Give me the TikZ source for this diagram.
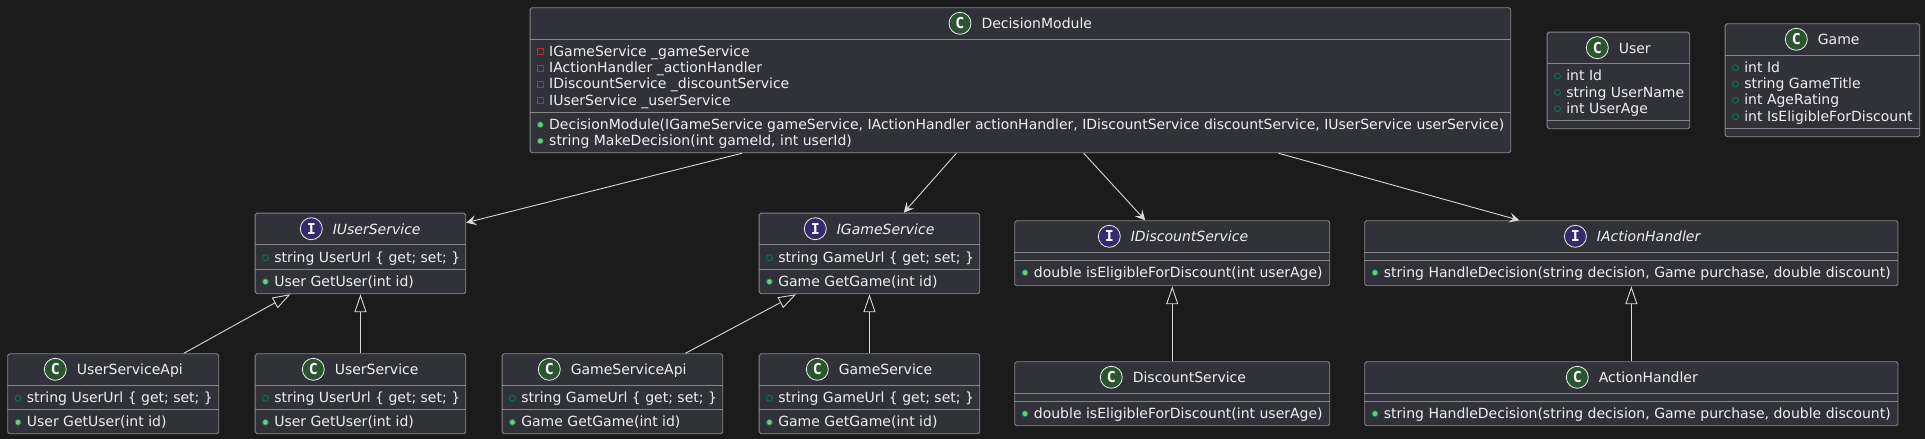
\documentclass[tikz,border=0pt]{standalone}
\usepackage{fontspec}
\setmainfont{DejaVu Sans}
\setmonofont{DejaVu Sans Mono}
\usepackage{tikz}
\usetikzlibrary{arrows.meta}
\definecolor{pagebg}{HTML}{1B1B1B}
\definecolor{boxbg}{HTML}{31313A}
\definecolor{boxline}{HTML}{888888}
\definecolor{inktext}{HTML}{F0F0F0}
\definecolor{linkline}{HTML}{D8D8D8}
\definecolor{iconC}{HTML}{2B5530}
\definecolor{iconI}{HTML}{352A6E}
\definecolor{privred}{HTML}{C82930}
\definecolor{pubgreen}{HTML}{038048}
\definecolor{pubfill}{HTML}{84BE84}
\tikzset{
    umlbox/.style={draw=boxline, fill=boxbg, line width=0.9pt, rounded corners=1.8pt,
        inner sep=0pt, anchor=north west},
    sepline/.style={boxline, line width=0.9pt},
    classicon/.style={circle, draw=inktext, line width=0.8pt, minimum size=22pt, inner sep=0pt,
        text=white, font=\ttfamily\bfseries\fontsize{15}{15}\selectfont},
    titletext/.style={text=inktext, anchor=base west, inner sep=0pt},
    membertext/.style={text=inktext, anchor=base west, inner sep=0pt, font=\fontsize{14}{14}\selectfont},
    mpriv/.style={rectangle, draw=privred, line width=0.8pt, minimum size=6pt, inner sep=0pt},
    mfield/.style={circle, draw=pubgreen, line width=0.8pt, minimum size=6pt, inner sep=0pt},
    mmeth/.style={circle, draw=pubgreen, fill=pubfill, line width=0.8pt, minimum size=6pt, inner sep=0pt},
    assoc/.style={linkline, line width=0.9pt, -{Stealth[length=10pt, width=10pt, inset=4pt, fill=linkline]}},
    inherit/.style={linkline, line width=0.9pt, -{Triangle[open, length=18pt, width=12pt, fill=pagebg]}},
}
\begin{document}
\begin{tikzpicture}[x=1pt, y=-1pt]

\fill[pagebg] (0,0) rectangle (1925,439);
\useasboundingbox (0,0) rectangle (1925,439);

% ---------------- BOXES ----------------
% name / left / top / width / height / first line / second line
\foreach \nm/\xa/\ya/\bw/\bh/\sepa/\sepb in {
    dm/529.6/7.3/980.7/145/32/105,
    iuser/254.7/212.7/210.6/80.6/31.6/56.6,
    userapi/7.3/353.3/211/80/32/56,
    usersvc/254.7/353.3/210.6/80/32/56,
    igame/758.7/212.7/220.6/80.6/31.6/56.6,
    gameapi/501.7/353.3/220.6/80/32/56,
    gamesvc/758.7/353.3/220.6/80/32/56,
    idisc/1014.3/220.3/315/65/32/40,
    discsvc/1014.3/361.3/315/64/32/40,
    iaction/1364.3/220.3/533.2/65/32/40,
    action/1364.3/361.3/533.2/64/32/40,
    user/1546.7/31.7/142.6/96.6/31.6/88.6,
    game/1724.7/23.3/194.6/113/32/105
}{
    \node[umlbox, minimum width=\bw pt, minimum height=\bh pt] (\nm) at (\xa,\ya) {};
    \draw[sepline] ([yshift=-\sepa pt]\nm.north west) -- ([yshift=-\sepa pt]\nm.north east);
    \draw[sepline] ([yshift=-\sepb pt]\nm.north west) -- ([yshift=-\sepb pt]\nm.north east);
}

% ---------------- TITLES ----------------
% box / icon x from left / letter / shape / text
\foreach \nm/\ix/\ltr/\shp/\txt in {
    dm/430.4/C/up/DecisionModule,
    iuser/56.6/I/it/IUserService,
    userapi/48/C/up/UserServiceApi,
    usersvc/58.6/C/up/UserService,
    igame/56.6/I/it/IGameService,
    gameapi/47.6/C/up/GameServiceApi,
    gamesvc/58.6/C/up/GameService,
    idisc/95/I/it/IDiscountService,
    discsvc/97/C/up/DiscountService,
    iaction/211.1/I/it/IActionHandler,
    action/213/C/up/ActionHandler,
    user/50.6/C/up/User,
    game/71.6/C/up/Game
}{
    \node[classicon, fill=icon\ltr] (\nm-icon) at ([shift={(\ix,16)}]\nm.north west) {\ltr};
    \node[titletext, font=\fontsize{14}{14}\selectfont\csname\shp shape\endcsname] (\nm-title)
        at ([shift={(21.3,5.4)}]\nm-icon.center) {\txt};
}

% ---------------- MEMBERS ----------------
% box / row / baseline below top / marker / text
\foreach \nm/\rw/\dy/\kind/\txt in {
    dm/1/49/mpriv/{IGameService \_gameService},
    dm/2/65.3/mpriv/{IActionHandler \_actionHandler},
    dm/3/81.6/mpriv/{IDiscountService \_discountService},
    dm/4/98/mpriv/{IUserService \_userService},
    dm/5/122/mmeth/{DecisionModule(IGameService gameService, IActionHandler actionHandler, IDiscountService discountService, IUserService userService)},
    dm/6/138.3/mmeth/{string MakeDecision(int gameId, int userId)},
    iuser/1/49.6/mfield/{string UserUrl \{ get; set; \}},
    iuser/2/73.6/mmeth/{User GetUser(int id)},
    userapi/1/49.6/mfield/{string UserUrl \{ get; set; \}},
    userapi/2/73.6/mmeth/{User GetUser(int id)},
    usersvc/1/49.6/mfield/{string UserUrl \{ get; set; \}},
    usersvc/2/73.6/mmeth/{User GetUser(int id)},
    igame/1/49.6/mfield/{string GameUrl \{ get; set; \}},
    igame/2/73.6/mmeth/{Game GetGame(int id)},
    gameapi/1/49.6/mfield/{string GameUrl \{ get; set; \}},
    gameapi/2/73.6/mmeth/{Game GetGame(int id)},
    gamesvc/1/49.6/mfield/{string GameUrl \{ get; set; \}},
    gamesvc/2/73.6/mmeth/{Game GetGame(int id)},
    idisc/1/57/mmeth/{double isEligibleForDiscount(int userAge)},
    discsvc/1/57/mmeth/{double isEligibleForDiscount(int userAge)},
    iaction/1/57/mmeth/{string HandleDecision(string decision, Game purchase, double discount)},
    action/1/57/mmeth/{string HandleDecision(string decision, Game purchase, double discount)},
    user/1/49/mfield/{int Id},
    user/2/65.3/mfield/{string UserName},
    user/3/81.6/mfield/{int UserAge},
    game/1/49/mfield/{int Id},
    game/2/65.3/mfield/{string GameTitle},
    game/3/81.6/mfield/{int AgeRating},
    game/4/98/mfield/{int IsEligibleForDiscount}
}{
    \node[\kind] (\nm-mark\rw) at ([shift={(10.7,\dy-4.6)}]\nm.north west) {};
    \node[membertext] (\nm-row\rw) at ([shift={(19.4,\dy)}]\nm.north west) {\txt};
}

% ---------------- LINKS ----------------
\draw[assoc] ([xshift=-278.3pt]dm.south) -- ([yshift=-10pt]iuser.north east);
\draw[assoc] ([xshift=-64pt]dm.south) -- ([xshift=34.3pt]igame.north);
\draw[assoc] ([xshift=63.3pt]dm.south) -- ([xshift=-27pt]idisc.north);
\draw[assoc] ([xshift=258pt]dm.south) -- ([xshift=-112pt]iaction.north);

\draw[inherit] ([xshift=70.6pt]userapi.north) -- ([xshift=-70pt]iuser.south);
\draw[inherit] (usersvc.north) -- (iuser.south);
\draw[inherit] ([xshift=73pt]gameapi.north) -- ([xshift=-73.3pt]igame.south);
\draw[inherit] (gamesvc.north) -- (igame.south);
\draw[inherit] (discsvc.north) -- (idisc.south);
\draw[inherit] (action.north) -- (iaction.south);

\end{tikzpicture}
\end{document}
